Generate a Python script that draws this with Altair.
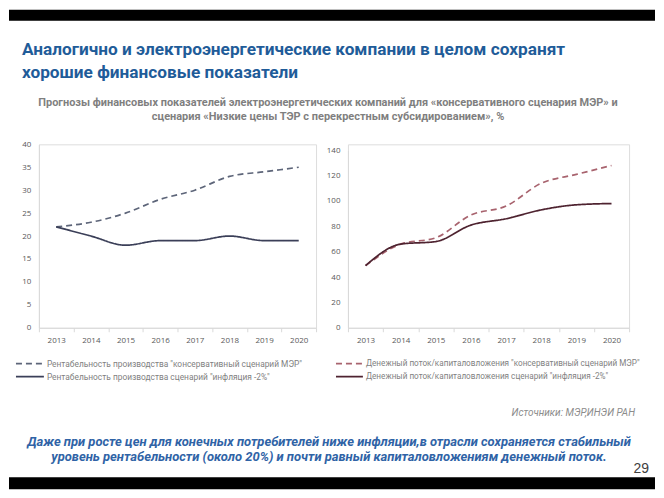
import altair as alt
import pandas as pd

# ---------------- data ----------------
years = [2013, 2014, 2015, 2016, 2017, 2018, 2019, 2020]
prof_conservative = [22, 23, 25, 28, 30, 33, 34, 35]
prof_inflation = [22, 20, 18, 19, 19, 20, 19, 19]
cash_conservative = [49, 66, 71, 89, 96, 114, 121, 128]
cash_inflation = [49, 66, 68, 81, 86, 93, 97, 98]

left_labels = ['Рентабельность производства "консервативный сценарий МЭР"',
               'Рентабельность производства сценарий "инфляция -2%"']
right_labels = ['Денежный поток/капиталовложения "консервативный сценарий МЭР"',
                'Денежный поток/капиталовложения сценарий "инфляция -2%"']

left_ticks = [0, 5, 10, 15, 20, 25, 30, 35, 40]
right_ticks = [0, 20, 40, 60, 80, 100, 120, 140]

title_lines = ["Аналогично и электроэнергетические компании в целом сохранят",
               "хорошие финансовые показатели"]
subtitle_lines = ["Прогнозы финансовых показателей электроэнергетических компаний для «консервативного сценария МЭР» и",
                  "сценария «Низкие цены ТЭР с перекрестным субсидированием», %"]
source_text = "Источники: МЭР,ИНЭИ РАН"
footer_lines = ["Даже при росте цен для конечных потребителей ниже инфляции,в отрасли сохраняется стабильный",
                "уровень рентабельности (около 20%) и почти равный капиталовложениям денежный поток."]
page_number = "29"

left_colors = ["#5d6579", "#3b3f58"]
right_colors = ["#a8636e", "#4e2330"]
dashes = [[6, 4], [1, 0]]

left_df = pd.DataFrame({
    "year": years * 2,
    "value": prof_conservative + prof_inflation,
    "series_l": [left_labels[0]] * 8 + [left_labels[1]] * 8,
})
right_df = pd.DataFrame({
    "year": years * 2,
    "value": cash_conservative + cash_inflation,
    "series_r": [right_labels[0]] * 8 + [right_labels[1]] * 8,
})

one = alt.Data(values=[{"k": 0}])

AXIS_FONT = "Open Sans"
LBL_COLOR = "#595959"
DOMAIN_COLOR = "#d9d9d9"


def xaxis():
    return alt.Axis(title=None, labelAngle=0, tickBand="extent", tickSize=4,
                    tickColor=DOMAIN_COLOR, domainColor=DOMAIN_COLOR, labelColor=LBL_COLOR,
                    labelFont=AXIS_FONT, labelFontSize=8, labelPadding=5, grid=False)


def yaxis(vals):
    return alt.Axis(title=None, values=vals, ticks=False, domainColor=DOMAIN_COLOR,
                    labelColor=LBL_COLOR, labelFont=AXIS_FONT, labelFontSize=8,
                    labelPadding=8, grid=False)


def lines(df, field, labels, colors, ydomain, yvals, yrange=None):
    yscale = alt.Scale(domain=ydomain, range=yrange) if yrange else alt.Scale(domain=ydomain)
    return alt.Chart(df).mark_line(interpolate="monotone", strokeWidth=1.7).encode(
        x=alt.X("year:O", bandPosition=0.5,
                scale=alt.Scale(type="band", paddingInner=0, paddingOuter=0),
                axis=xaxis()),
        y=alt.Y("value:Q", scale=yscale, axis=yaxis(yvals)),
        color=alt.Color(field + ":N", scale=alt.Scale(domain=labels, range=colors), legend=None),
        strokeDash=alt.StrokeDash(field + ":N", scale=alt.Scale(domain=labels, range=dashes), legend=None),
    )


def txt(s, x, y, size, color, weight="normal", style="normal", align="left",
        font="Roboto", baseline="alphabetic"):
    return alt.Chart(one).mark_text(align=align, baseline=baseline, fontSize=size, color=color,
                                     fontWeight=weight, fontStyle=style, font=font).encode(
        x=alt.value(x), y=alt.value(y), text=alt.value(s))


def legend_row(label, color, dash, x0, x1, y, size):
    r = alt.Chart(one).mark_rule(color=color, strokeWidth=1.6, strokeDash=dash).encode(
        x=alt.value(x0), x2=alt.value(x1), y=alt.value(y))
    t = txt(label, x1 + 3, y, size, "#7f7f7f", baseline="middle", font="Roboto")
    return [r, t]


def bar(x0, x1, y0, y1):
    return alt.Chart(one).mark_rect(color="#000000").encode(
        x=alt.value(x0), x2=alt.value(x1), y=alt.value(y0), y2=alt.value(y1))


TITLE_BLUE = "#1f5c99"
FOOT_BLUE = "#2f63a6"

left_layers = [
    bar(-30, 618, -135, -124),
    bar(-30, 618, 334, 346),
    txt(title_lines[0], -17, -90, 17.3, TITLE_BLUE, weight="bold"),
    txt(title_lines[1], -17, -67, 17.3, TITLE_BLUE, weight="bold"),
    txt(subtitle_lines[0], 290, -38, 11, "#7f7f7f", weight="bold", align="center"),
    txt(subtitle_lines[1], 290, -24, 11, "#7f7f7f", weight="bold", align="center"),
    txt(source_text, 598, 273, 10, "#8c8c8c", style="italic", align="right"),
    txt(footer_lines[0], 291, 303, 13, FOOT_BLUE, weight="bold", style="italic", align="center"),
    txt(footer_lines[1], 291, 318, 13, FOOT_BLUE, weight="bold", style="italic", align="center"),
    txt(page_number, 612, 330, 14, "#404040", align="right", font="Liberation Sans"),
    lines(left_df, "series_l", left_labels, left_colors, [0, 40], left_ticks),
]
left_layers += legend_row(left_labels[0], left_colors[0], dashes[0], -23, 5, 220, 8.4)
left_layers += legend_row(left_labels[1], left_colors[1], dashes[1], -23, 5, 233, 8.4)

right_layers = [
    lines(right_df, "series_r", right_labels, right_colors, [0, 140], right_ticks, yrange=[184, 6]),
]
right_layers += legend_row(right_labels[0], right_colors[0], dashes[0], -12, 15, 220, 8.2)
right_layers += legend_row(right_labels[1], right_colors[1], dashes[1], -12, 15, 233, 8.2)

left = alt.layer(*left_layers).properties(width=278, height=184)
right = alt.layer(*right_layers).properties(width=282, height=184)

chart = alt.hconcat(left, right, spacing=32, bounds="flush").resolve_scale(
    color="independent", strokeDash="independent", x="independent", y="independent"
).properties(padding=0).configure_view(stroke=None).configure(background="white")

chart.save("out.html", embed_options={"renderer": "svg", "actions": False})
